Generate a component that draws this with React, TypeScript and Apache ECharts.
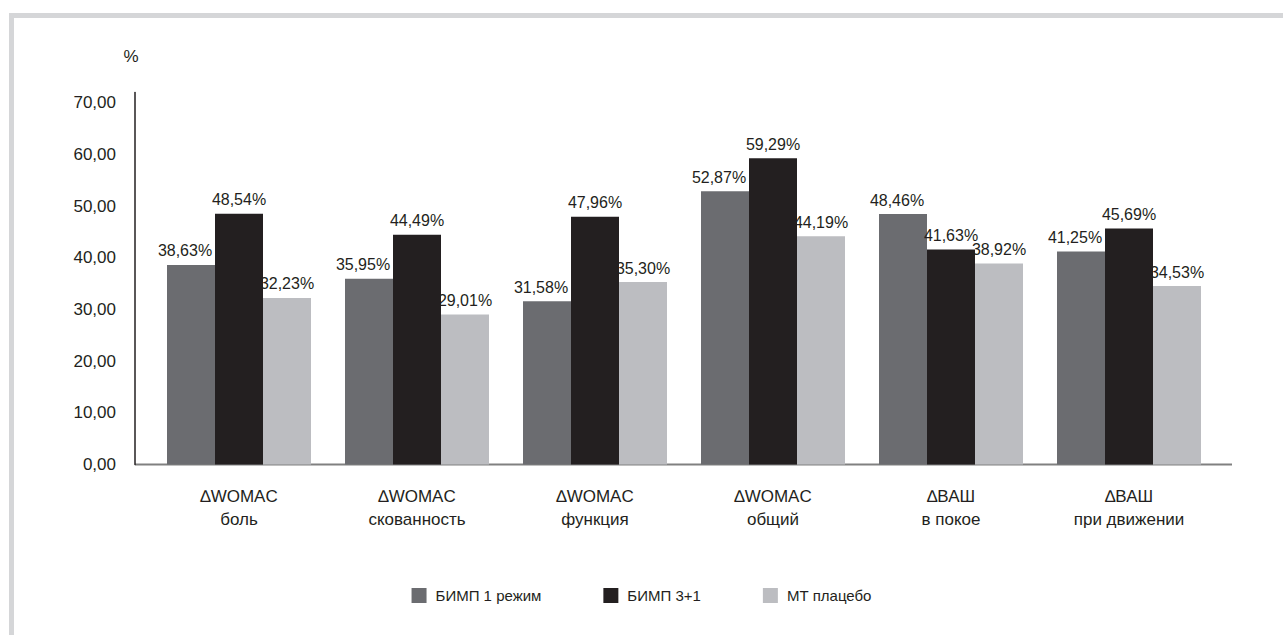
import React, { useEffect, useRef } from "react";
import * as echarts from "echarts";

const categories = [
  "∆WOMAC\nболь",
  "∆WOMAC\nскованность",
  "∆WOMAC\nфункция",
  "∆WOMAC\nобщий",
  "∆ВАШ\nв покое",
  "∆ВАШ\nпри движении",
];
const seriesNames = ["БИМП 1 режим", "БИМП 3+1", "МТ плацебо"];
const bimp1 = [38.63, 35.95, 31.58, 52.87, 48.46, 41.25];
const bimp31 = [48.54, 44.49, 47.96, 59.29, 41.63, 45.69];
const placebo = [32.23, 29.01, 35.3, 44.19, 38.92, 34.53];
const colors = ["#6b6c70", "#231f20", "#bcbdc1"];

const FONT = "'Liberation Sans', Arial, sans-serif";
const TEXT = "#231f20";

const fmt = (v: number) => v.toFixed(2).replace(".", ",");

export default function App() {
  const ref = useRef<HTMLDivElement>(null);
  useEffect(() => {
    if (!ref.current) return;
    const chart = echarts.init(ref.current, null, { renderer: "svg" });
    const seriesData = [bimp1, bimp31, placebo];
    chart.setOption({
      animation: false,
      backgroundColor: "transparent",
      textStyle: { fontFamily: FONT, color: TEXT },
      grid: { left: 150, right: 65, top: 92.5, bottom: 170.5, containLabel: false },
      legend: {
        data: seriesNames,
        left: "center",
        top: 588,
        icon: "rect",
        itemWidth: 15,
        itemHeight: 15,
        itemGap: 62,
        padding: 0,
        textStyle: { fontFamily: FONT, fontSize: 15, color: TEXT, padding: [0, 0, 0, 4] },
      },
      xAxis: {
        type: "category",
        data: categories,
        axisLine: { show: false },
        axisTick: { show: false },
        axisLabel: {
          fontFamily: FONT,
          fontSize: 17,
          lineHeight: 23,
          color: TEXT,
          margin: 20,
          interval: 0,
        },
      },
      yAxis: {
        type: "value",
        min: 0,
        max: 72,
        interval: 10,
        offset: 15,
        name: "%",
        nameLocation: "end",
        nameGap: 28,
        nameTextStyle: { fontFamily: FONT, fontSize: 17, color: TEXT, padding: [0, 8, 0, 0] },
        axisLine: { show: true, lineStyle: { color: "#231f20", width: 1.5 } },
        axisTick: { show: false },
        splitLine: { show: false },
        axisLabel: {
          fontFamily: FONT,
          fontSize: 17,
          color: TEXT,
          margin: 19,
          showMaxLabel: false,
          formatter: (v: number) => fmt(v),
        },
      },
      graphic: [
        {
          type: "line",
          shape: { x1: 135, y1: 464.5, x2: 1232, y2: 464.5 },
          style: { stroke: "#808080", lineWidth: 2 },
          silent: true,
        },
      ],
      series: seriesNames.map((name, i) => ({
        name,
        type: "bar",
        data: seriesData[i],
        barWidth: 48,
        barGap: "0%",
        itemStyle: { color: colors[i] },
        label: {
          show: true,
          position: "top",
          distance: 6,
          offset: i === 0 ? [-6, 0] : [0, 0],
          fontFamily: FONT,
          fontSize: 16,
          color: TEXT,
          formatter: (p: any) => fmt(p.value) + "%",
        },
      })),
    });
    return () => chart.dispose();
  }, []);

  return (
    <div style={{ position: "fixed", left: 0, top: 0, width: 1283, height: 635, background: "#fff", overflow: "hidden" }}>
      <div
        style={{
          position: "absolute",
          left: 9,
          top: 13,
          width: 1400,
          height: 800,
          borderTop: "5px solid #d5d6d8",
          borderLeft: "5px solid #d5d6d8",
        }}
      />
      <div ref={ref} style={{ position: "absolute", left: 0, top: 0, width: 1283, height: 635 }} />
    </div>
  );
}
